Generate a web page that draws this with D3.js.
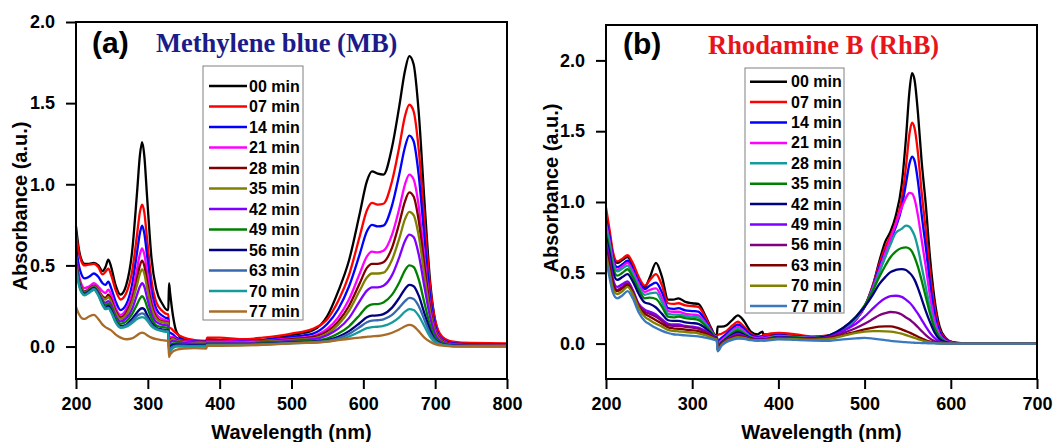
<!DOCTYPE html>
<html><head><meta charset="utf-8">
<script src="https://cdn.jsdelivr.net/npm/d3@7/dist/d3.min.js"></script>
<style>body{margin:0;background:#fff}svg{display:block}</style>
</head><body>
<svg id="c" width="1057" height="442"></svg>
<script>
// ---------- shared ----------
const legendLabels = ["00 min","07 min","14 min","21 min","28 min","35 min","42 min","49 min","56 min","63 min","70 min","77 min"];
const yTickVals = [0, 0.5, 1.0, 1.5, 2.0];

// ---------- panel (a): Methylene blue ----------
const xTicksA = [200, 300, 400, 500, 600, 700, 800];
const colorsA = ["#000000","#ff0000","#0000ff","#ff00ff","#800000","#808000","#8000ff","#008000","#000080","#3868b0","#159b9b","#a86c28"];
const wlA = [200,204,208,212,218,225,231,237,241,245,249,255,262,270,278,285,289,292,295,299,305,312,320,327,328.5,
  329.5,331,335,340,350,365,381.5,382.5,400,430,460,
  500,530,550,565,580,595,605,612,620,628,640,650,658,664,670,677,685,693,700,710,725,750,800];
const mb00 = [0.74,0.60,0.53,0.51,0.51,0.515,0.50,0.465,0.49,0.535,0.49,0.38,0.32,0.38,0.58,0.95,1.18,1.26,1.18,0.92,0.55,0.35,0.265,0.225,0.225,
  0.39,0.33,0.19,0.09,0.045,0.035,0.03,0.045,0.04,0.03,0.04,
  0.07,0.10,0.19,0.34,0.53,0.82,1.02,1.08,1.065,1.06,1.23,1.48,1.70,1.79,1.74,1.45,0.90,0.40,0.16,0.05,0.02,0.015,0.012];
const mb07 = [0.70,0.58,0.52,0.50,0.505,0.51,0.49,0.445,0.46,0.48,0.44,0.35,0.29,0.33,0.46,0.69,0.83,0.875,0.83,0.66,0.41,0.27,0.22,0.20,0.20,
  0.115,0.115,0.10,0.08,0.055,0.04,0.035,0.055,0.055,0.045,0.055,
  0.08,0.11,0.17,0.28,0.44,0.68,0.84,0.885,0.875,0.88,1.02,1.23,1.42,1.49,1.45,1.22,0.78,0.37,0.16,0.06,0.03,0.022,0.02];
const mb14 = [0.62,0.50,0.44,0.42,0.43,0.45,0.43,0.39,0.38,0.40,0.36,0.28,0.225,0.26,0.38,0.58,0.70,0.745,0.70,0.56,0.35,0.23,0.19,0.175,0.175,
  0.09,0.085,0.075,0.055,0.04,0.032,0.03,0.04,0.04,0.035,0.04,
  0.06,0.08,0.14,0.23,0.37,0.57,0.71,0.75,0.74,0.745,0.87,1.06,1.23,1.30,1.265,1.06,0.67,0.31,0.13,0.045,0.02,0.015,0.012];
const mb21 = [0.56,0.44,0.38,0.36,0.37,0.39,0.37,0.34,0.33,0.35,0.32,0.24,0.195,0.23,0.32,0.48,0.57,0.605,0.57,0.46,0.29,0.20,0.17,0.16,0.16,
  0.06,0.06,0.06,0.045,0.035,0.028,0.025,0.035,0.035,0.03,0.035,
  0.05,0.065,0.11,0.18,0.29,0.45,0.555,0.585,0.58,0.59,0.69,0.85,1.00,1.06,1.03,0.87,0.55,0.26,0.11,0.04,0.015,0.01,0.008];
const mb28 = [0.54,0.42,0.36,0.34,0.355,0.375,0.35,0.31,0.30,0.32,0.29,0.22,0.18,0.21,0.29,0.42,0.50,0.53,0.50,0.40,0.26,0.18,0.155,0.15,0.15,
  0.04,0.045,0.05,0.04,0.03,0.025,0.022,0.03,0.03,0.027,0.032,
  0.045,0.06,0.095,0.155,0.25,0.39,0.485,0.51,0.51,0.52,0.61,0.76,0.895,0.95,0.925,0.78,0.50,0.24,0.10,0.035,0.012,0.008,0.006];
const mb35 = [0.53,0.41,0.355,0.335,0.35,0.37,0.345,0.30,0.29,0.305,0.275,0.21,0.17,0.195,0.27,0.38,0.45,0.475,0.45,0.36,0.24,0.17,0.15,0.145,0.145,
  0.03,0.035,0.045,0.035,0.027,0.022,0.02,0.027,0.027,0.025,0.03,
  0.04,0.05,0.08,0.135,0.22,0.345,0.425,0.45,0.45,0.455,0.535,0.665,0.785,0.83,0.81,0.685,0.44,0.21,0.09,0.03,0.01,0.006,0.005];
const mb42 = [0.52,0.40,0.345,0.33,0.345,0.365,0.335,0.285,0.27,0.28,0.255,0.19,0.155,0.175,0.23,0.32,0.37,0.39,0.37,0.30,0.205,0.15,0.135,0.13,0.13,
  0.015,0.025,0.035,0.03,0.022,0.018,0.016,0.022,0.022,0.02,0.025,
  0.035,0.045,0.07,0.11,0.175,0.28,0.345,0.365,0.365,0.375,0.44,0.55,0.65,0.69,0.675,0.57,0.37,0.18,0.075,0.025,0.008,0.005,0.004];
const mb49 = [0.52,0.40,0.345,0.33,0.345,0.365,0.33,0.275,0.255,0.265,0.24,0.175,0.14,0.155,0.20,0.26,0.295,0.31,0.295,0.245,0.175,0.13,0.12,0.115,0.115,
  0.0,0.01,0.02,0.02,0.016,0.013,0.01,0.018,0.018,0.016,0.02,
  0.03,0.035,0.05,0.08,0.125,0.195,0.245,0.26,0.262,0.272,0.32,0.395,0.47,0.50,0.49,0.415,0.27,0.13,0.055,0.02,0.006,0.004,0.003];
const mb56 = [0.51,0.395,0.34,0.325,0.34,0.36,0.325,0.265,0.24,0.25,0.225,0.16,0.125,0.135,0.17,0.21,0.23,0.236,0.23,0.195,0.145,0.115,0.105,0.10,0.10,
  -0.015,-0.005,0.01,0.012,0.01,0.008,0.007,0.014,0.014,0.013,0.017,
  0.025,0.03,0.04,0.06,0.095,0.145,0.18,0.19,0.192,0.20,0.24,0.30,0.355,0.38,0.372,0.315,0.205,0.10,0.04,0.015,0.005,0.003,0.002];
const mb63 = [0.50,0.39,0.335,0.32,0.335,0.355,0.32,0.26,0.235,0.24,0.215,0.155,0.12,0.13,0.155,0.19,0.20,0.205,0.20,0.175,0.135,0.11,0.10,0.095,0.095,
  -0.025,-0.015,0.0,0.005,0.005,0.004,0.004,0.012,0.012,0.011,0.015,
  0.022,0.027,0.035,0.05,0.078,0.12,0.15,0.16,0.162,0.168,0.195,0.24,0.28,0.30,0.293,0.25,0.165,0.08,0.035,0.012,0.004,0.002,0.002];
const mb70 = [0.49,0.38,0.33,0.315,0.33,0.35,0.315,0.255,0.23,0.235,0.21,0.15,0.115,0.122,0.145,0.17,0.178,0.181,0.178,0.16,0.125,0.105,0.095,0.09,0.09,
  -0.04,-0.03,-0.01,0.0,0.0,0.0,0.0,0.01,0.01,0.01,0.013,
  0.02,0.024,0.03,0.042,0.062,0.092,0.113,0.12,0.122,0.127,0.148,0.18,0.215,0.23,0.225,0.19,0.125,0.06,0.025,0.01,0.003,0.002,0.001];
const mb77 = [0.245,0.20,0.175,0.17,0.185,0.195,0.17,0.135,0.12,0.11,0.10,0.075,0.055,0.045,0.05,0.07,0.082,0.086,0.082,0.07,0.055,0.045,0.04,0.035,0.035,
  -0.065,-0.05,-0.03,-0.02,-0.012,-0.01,-0.012,0.005,0.005,0.006,0.01,
  0.02,0.025,0.03,0.04,0.048,0.055,0.06,0.063,0.065,0.07,0.085,0.105,0.125,0.133,0.125,0.095,0.055,0.03,0.015,0.005,0.0,0.0,0.0];

// ---------- panel (b): Rhodamine B ----------
const xTicksB = [200, 300, 400, 500, 600, 700];
const colorsB = ["#000000","#ff0000","#0000ff","#ff00ff","#159b9b","#008000","#000080","#8000ff","#800080","#800000","#808000","#3a78c0"];
const wlB = [200,204,208,213,219,225,231,238,245,251,258,265,272,278,284,292,300,307,315,322,327,328.5,
  329.5,334,340,347,353,360,368,376,381.5,382.5,400,420,440,
  460,475,490,500,510,517,524,530,536,543,548,552,555,558,562,566,571,576,581,587,594,602,612,640,700];
const rhb00 = [0.92,0.78,0.63,0.57,0.59,0.61,0.55,0.45,0.40,0.47,0.57,0.47,0.31,0.31,0.32,0.295,0.285,0.28,0.20,0.11,0.06,0.06,
  0.12,0.12,0.13,0.17,0.20,0.16,0.085,0.065,0.085,0.065,0.065,0.05,0.04,
  0.05,0.09,0.17,0.26,0.42,0.58,0.72,0.79,0.90,1.12,1.45,1.78,1.91,1.86,1.62,1.30,0.98,0.60,0.32,0.12,0.04,0.01,0.003,0.0,0.0];
const rhb07 = [0.96,0.81,0.65,0.58,0.60,0.625,0.57,0.47,0.41,0.45,0.49,0.41,0.285,0.28,0.285,0.27,0.265,0.26,0.19,0.10,0.055,0.055,
  0.06,0.07,0.09,0.13,0.155,0.12,0.07,0.05,0.055,0.06,0.075,0.065,0.05,
  0.06,0.09,0.17,0.26,0.42,0.56,0.68,0.76,0.85,1.02,1.25,1.48,1.56,1.52,1.34,1.08,0.80,0.50,0.27,0.10,0.035,0.01,0.003,0.0,0.0];
const rhb14 = [0.88,0.76,0.61,0.54,0.56,0.585,0.53,0.44,0.385,0.41,0.43,0.36,0.25,0.245,0.25,0.235,0.23,0.225,0.165,0.095,0.052,0.052,
  0.02,0.04,0.07,0.11,0.135,0.105,0.06,0.045,0.05,0.045,0.06,0.05,0.045,
  0.05,0.09,0.17,0.26,0.41,0.54,0.65,0.73,0.82,0.96,1.13,1.27,1.32,1.29,1.14,0.92,0.68,0.42,0.22,0.085,0.03,0.008,0.002,0.0,0.0];
const rhb21 = [0.85,0.73,0.59,0.52,0.545,0.57,0.51,0.42,0.365,0.38,0.39,0.32,0.23,0.225,0.225,0.21,0.205,0.20,0.15,0.09,0.05,0.05,
  0.0,0.025,0.055,0.095,0.118,0.09,0.05,0.04,0.045,0.04,0.055,0.048,0.042,
  0.05,0.09,0.17,0.26,0.40,0.52,0.64,0.74,0.84,0.96,1.03,1.065,1.06,1.02,0.90,0.74,0.54,0.33,0.17,0.065,0.02,0.005,0.0,0.0,0.0];
const rhb28 = [0.83,0.71,0.57,0.51,0.53,0.55,0.49,0.40,0.345,0.355,0.36,0.29,0.21,0.205,0.205,0.195,0.19,0.185,0.14,0.085,0.048,0.048,
  -0.01,0.015,0.045,0.085,0.103,0.08,0.045,0.035,0.04,0.035,0.05,0.045,0.04,
  0.06,0.10,0.18,0.26,0.39,0.50,0.61,0.70,0.78,0.81,0.833,0.825,0.80,0.76,0.67,0.55,0.40,0.25,0.13,0.05,0.015,0.004,0.0,0.0,0.0];
const rhb35 = [0.78,0.67,0.54,0.48,0.50,0.525,0.47,0.38,0.32,0.325,0.315,0.26,0.19,0.185,0.19,0.18,0.175,0.168,0.128,0.08,0.046,0.046,
  -0.02,0.01,0.04,0.075,0.094,0.072,0.042,0.033,0.037,0.033,0.048,0.043,0.038,
  0.06,0.11,0.19,0.27,0.38,0.47,0.55,0.61,0.65,0.675,0.68,0.67,0.65,0.61,0.54,0.45,0.33,0.21,0.11,0.045,0.013,0.004,0.0,0.0,0.0];
const rhb42 = [0.75,0.64,0.51,0.45,0.47,0.49,0.44,0.35,0.29,0.28,0.255,0.21,0.165,0.16,0.16,0.15,0.145,0.14,0.11,0.07,0.043,0.043,
  -0.03,0.005,0.035,0.065,0.08,0.063,0.038,0.03,0.033,0.03,0.045,0.04,0.036,
  0.06,0.11,0.19,0.26,0.35,0.42,0.47,0.505,0.52,0.526,0.52,0.50,0.48,0.45,0.39,0.32,0.23,0.15,0.08,0.03,0.01,0.003,0.0,0.0,0.0];
const rhb49 = [0.72,0.60,0.46,0.40,0.42,0.44,0.38,0.28,0.24,0.225,0.205,0.17,0.14,0.135,0.135,0.125,0.12,0.113,0.09,0.062,0.04,0.04,
  -0.035,0.0,0.03,0.055,0.068,0.055,0.034,0.028,0.03,0.028,0.042,0.038,0.034,
  0.05,0.09,0.14,0.19,0.25,0.29,0.32,0.335,0.338,0.33,0.31,0.29,0.27,0.245,0.21,0.17,0.12,0.075,0.04,0.015,0.005,0.001,0.0,0.0,0.0];
const rhb56 = [0.69,0.57,0.44,0.38,0.40,0.425,0.37,0.27,0.225,0.21,0.19,0.16,0.13,0.125,0.125,0.118,0.113,0.106,0.085,0.058,0.038,0.038,
  -0.04,0.0,0.025,0.048,0.06,0.05,0.032,0.026,0.028,0.026,0.04,0.036,0.032,
  0.045,0.075,0.11,0.14,0.175,0.20,0.215,0.223,0.22,0.205,0.185,0.17,0.155,0.14,0.115,0.09,0.06,0.035,0.018,0.007,0.002,0.0,0.0,0.0,0.0];
const rhb63 = [0.66,0.54,0.42,0.37,0.39,0.415,0.36,0.26,0.21,0.19,0.165,0.14,0.115,0.108,0.105,0.098,0.094,0.088,0.072,0.052,0.035,0.035,
  -0.045,-0.005,0.022,0.042,0.052,0.045,0.03,0.025,0.027,0.025,0.038,0.034,0.03,
  0.04,0.06,0.085,0.10,0.113,0.12,0.122,0.121,0.115,0.10,0.088,0.078,0.07,0.06,0.048,0.037,0.024,0.014,0.007,0.003,0.001,0.0,0.0,0.0,0.0];
const rhb70 = [0.63,0.51,0.39,0.35,0.37,0.40,0.35,0.25,0.19,0.165,0.14,0.12,0.097,0.09,0.087,0.082,0.078,0.073,0.06,0.045,0.032,0.032,
  -0.05,-0.01,0.018,0.035,0.045,0.04,0.028,0.024,0.025,0.024,0.035,0.031,0.028,
  0.035,0.055,0.075,0.085,0.088,0.088,0.087,0.085,0.08,0.07,0.06,0.052,0.046,0.04,0.032,0.024,0.015,0.009,0.005,0.002,0.0,0.0,0.0,0.0,0.0];
const rhb77 = [0.60,0.47,0.36,0.32,0.34,0.37,0.32,0.22,0.16,0.135,0.11,0.09,0.075,0.066,0.063,0.058,0.055,0.051,0.043,0.034,0.025,0.025,
  -0.055,-0.015,0.012,0.028,0.036,0.033,0.024,0.02,0.022,0.02,0.03,0.026,0.022,
  0.02,0.03,0.037,0.04,0.035,0.03,0.025,0.02,0.016,0.012,0.01,0.008,0.007,0.006,0.005,0.004,0.003,0.002,0.001,0.0,0.0,0.0,0.0,0.0,0.0];

const seriesA = [mb00,mb07,mb14,mb21,mb28,mb35,mb42,mb49,mb56,mb63,mb70,mb77];
const seriesB = [rhb00,rhb07,rhb14,rhb21,rhb28,rhb35,rhb42,rhb49,rhb56,rhb63,rhb70,rhb77];

const svg = d3.select("#c");
const SANS = "'Liberation Sans', Arial, sans-serif";
const SERIF = "'Liberation Serif', 'Times New Roman', serif";

function drawPanel(cfg) {
  const x = d3.scaleLinear().domain(cfg.xDomain).range([cfg.left, cfg.right]);
  const y = d3.scaleLinear().domain(cfg.yDomain).range([cfg.bottom, cfg.top]);
  const g = svg.append("g");

  const gx = g.append("g").attr("transform", `translate(0,${cfg.bottom})`)
    .call(d3.axisBottom(x).tickValues(cfg.xTicks).tickSize(10).tickPadding(8).tickFormat(d3.format("d")));
  gx.select(".domain").remove();
  gx.selectAll("line").attr("stroke", "#000").attr("stroke-width", 2);
  gx.selectAll("text").attr("font-family", SANS).attr("font-weight", "bold").attr("font-size", 18).attr("fill", "#000");

  const gy = g.append("g").attr("transform", `translate(${cfg.left},0)`)
    .call(d3.axisLeft(y).tickValues(yTickVals).tickSize(10).tickPadding(11).tickFormat(d3.format(".1f")));
  gy.select(".domain").remove();
  gy.selectAll("line").attr("stroke", "#000").attr("stroke-width", 2);
  gy.selectAll("text").attr("font-family", SANS).attr("font-weight", "bold").attr("font-size", 18).attr("fill", "#000");

  const line = d3.line().x(d => x(d[0])).y(d => y(d[1])).curve(d3.curveMonotoneX);
  cfg.series.forEach((vals, i) => {
    g.append("path").datum(d3.zip(cfg.wl, vals))
      .attr("d", line).attr("fill", "none")
      .attr("stroke", cfg.colors[i]).attr("stroke-width", 2.3)
      .attr("stroke-linejoin", "round");
  });

  g.append("rect").attr("x", cfg.left).attr("y", cfg.top)
    .attr("width", cfg.right - cfg.left).attr("height", cfg.bottom - cfg.top)
    .attr("fill", "none").attr("stroke", "#000").attr("stroke-width", 2);

  g.append("text").attr("x", (cfg.left + cfg.right) / 2).attr("y", 439)
    .attr("text-anchor", "middle").attr("font-family", SANS).attr("font-weight", "bold")
    .attr("font-size", 20).text("Wavelength (nm)");
  g.append("text").attr("transform", `translate(${cfg.yLabelX},${cfg.yLabelY}) rotate(-90)`)
    .attr("text-anchor", "middle").attr("font-family", SANS).attr("font-weight", "bold")
    .attr("font-size", 20).text("Absorbance (a.u.)");

  g.append("text").attr("x", cfg.tagX).attr("y", cfg.tagY).attr("font-family", SANS)
    .attr("font-weight", "bold").attr("font-size", 30).text(cfg.tag);
  g.append("text").attr("x", cfg.titleX).attr("y", cfg.titleY).attr("font-family", SERIF)
    .attr("font-weight", "bold").attr("font-size", 26.5).attr("fill", cfg.titleColor).text(cfg.title);

  const L = cfg.legend;
  g.append("rect").attr("x", L.x).attr("y", L.y).attr("width", L.w).attr("height", L.h)
    .attr("fill", "#fff").attr("stroke", "#808080").attr("stroke-width", 1);
  legendLabels.forEach((lab, i) => {
    const yy = L.first + i * L.step;
    g.append("line").attr("x1", L.lx1).attr("x2", L.lx2).attr("y1", yy).attr("y2", yy)
      .attr("stroke", cfg.colors[i]).attr("stroke-width", 2.5);
    g.append("text").attr("x", L.tx).attr("y", yy + 5.5).attr("font-family", SANS)
      .attr("font-weight", "bold").attr("font-size", 16).text(lab);
  });
}

drawPanel({
  left: 76, right: 507, top: 22, bottom: 379,
  xDomain: [200, 800], yDomain: [-0.2, 2.0], xTicks: xTicksA,
  wl: wlA, series: seriesA, colors: colorsA,
  yLabelX: 27, yLabelY: 206,
  tag: "(a)", tagX: 92, tagY: 53,
  title: "Methylene blue (MB)", titleX: 156, titleY: 52, titleColor: "#1b1b8a",
  legend: {x: 203, y: 66, w: 100, h: 254, first: 86, step: 20.5, lx1: 209, lx2: 247, tx: 249}
});

drawPanel({
  left: 606, right: 1037, top: 25, bottom: 379,
  xDomain: [200, 700], yDomain: [-0.25, 2.25], xTicks: xTicksB,
  wl: wlB, series: seriesB, colors: colorsB,
  yLabelX: 558, yLabelY: 188,
  tag: "(b)", tagX: 623, tagY: 54,
  title: "Rhodamine B (RhB)", titleX: 708, titleY: 54, titleColor: "#e8141c",
  legend: {x: 745, y: 68, w: 99, h: 245, first: 81.7, step: 20.4, lx1: 750, lx2: 787, tx: 791}
});
</script>
</body></html>
